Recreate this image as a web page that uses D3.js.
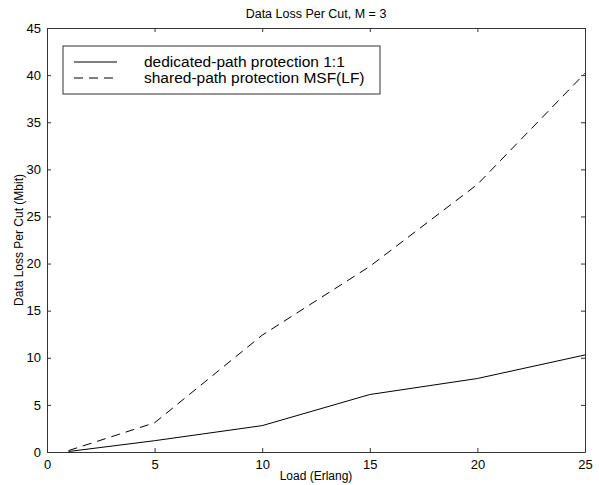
<!DOCTYPE html>
<html>
<head>
<meta charset="utf-8">
<script src="https://cdn.jsdelivr.net/npm/d3@7"></script>
<style>
  body { margin: 0; background: #fff; }
  text { font-family: "Liberation Sans", Arial, sans-serif; fill: #000; }
</style>
</head>
<body>
<div id="chart"></div>
<script>
// Chart data
const loads = [1, 5, 10, 15, 20, 25];
const dedicated = [0.05, 1.2, 2.8, 6.1, 7.8, 10.3];
const shared = [0.15, 3.1, 12.4, 19.7, 28.4, 40.2];
const xTicks = [0, 5, 10, 15, 20, 25];
const yTicks = [0, 5, 10, 15, 20, 25, 30, 35, 40, 45];
const seriesNames = ["dedicated-path protection 1:1", "shared-path protection MSF(LF)"];

const width = 599;
const height = 485;
const margin = { top: 28, right: 14, bottom: 33, left: 47 };

const svg = d3.select("#chart")
    .append("svg")
    .attr("width", width)
    .attr("height", height);

const xScale = d3.scaleLinear()
    .domain([0, 25])
    .range([margin.left, width - margin.right]);

const yScale = d3.scaleLinear()
    .domain([0, 45])
    .range([height - margin.bottom, margin.top]);

const axisColor = "#333";

// axes: ticks inward, mirrored on top/right
const axisBottomG = svg.append("g")
    .attr("transform", `translate(0, ${yScale(0)})`)
    .call(d3.axisBottom(xScale).tickValues(xTicks).tickSizeInner(-4).tickSizeOuter(0).tickPadding(8));
const axisTopG = svg.append("g")
    .attr("transform", `translate(0, ${yScale(45)})`)
    .call(d3.axisTop(xScale).tickValues(xTicks).tickSizeInner(-4).tickSizeOuter(0).tickFormat(""));
const axisLeftG = svg.append("g")
    .attr("transform", `translate(${xScale(0)}, 0)`)
    .call(d3.axisLeft(yScale).tickValues(yTicks).tickSizeInner(-4).tickSizeOuter(0).tickPadding(6));
const axisRightG = svg.append("g")
    .attr("transform", `translate(${xScale(25)}, 0)`)
    .call(d3.axisRight(yScale).tickValues(yTicks).tickSizeInner(-4).tickSizeOuter(0).tickFormat(""));

[axisBottomG, axisTopG, axisLeftG, axisRightG].forEach(function (g) {
    g.selectAll("path, line").attr("stroke", axisColor).attr("stroke-width", 1);
    g.selectAll("text").style("font-size", "13px").attr("fill", "#000");
});

// lines
const line = d3.line()
    .x(function (d, i) { return xScale(loads[i]); })
    .y(function (d) { return yScale(d); });

svg.append("path")
    .datum(dedicated)
    .attr("fill", "none")
    .attr("stroke", "#000")
    .attr("stroke-width", 1)
    .attr("d", line);

svg.append("path")
    .datum(shared)
    .attr("fill", "none")
    .attr("stroke", "#000")
    .attr("stroke-width", 1)
    .attr("stroke-dasharray", "9,6")
    .attr("d", line);

// legend
const legend = svg.append("g").attr("transform", "translate(63, 46)");
legend.append("rect")
    .attr("width", 317)
    .attr("height", 48)
    .attr("fill", "#fff")
    .attr("stroke", axisColor);
seriesNames.forEach(function (name, i) {
    const y = 16 + i * 16;
    legend.append("line")
        .attr("x1", 11).attr("x2", 54)
        .attr("y1", y).attr("y2", y)
        .attr("stroke", "#000")
        .attr("stroke-dasharray", i === 1 ? "9,6" : null);
    legend.append("text")
        .attr("x", 81)
        .attr("y", y + 5)
        .style("font-size", "15.5px")
        .text(name);
});

// title and labels
svg.append("text")
    .attr("x", (xScale(0) + xScale(25)) / 2)
    .attr("y", 18)
    .attr("text-anchor", "middle")
    .style("font-size", "12.5px")
    .text("Data Loss Per Cut, M = 3");

svg.append("text")
    .attr("x", (xScale(0) + xScale(25)) / 2)
    .attr("y", 480)
    .attr("text-anchor", "middle")
    .style("font-size", "12px")
    .text("Load (Erlang)");

svg.append("text")
    .attr("transform", "rotate(-90)")
    .attr("x", -(yScale(0) + yScale(45)) / 2)
    .attr("y", 23)
    .attr("text-anchor", "middle")
    .style("font-size", "12px")
    .text("Data Loss Per Cut (Mbit)");
</script>
</body>
</html>
